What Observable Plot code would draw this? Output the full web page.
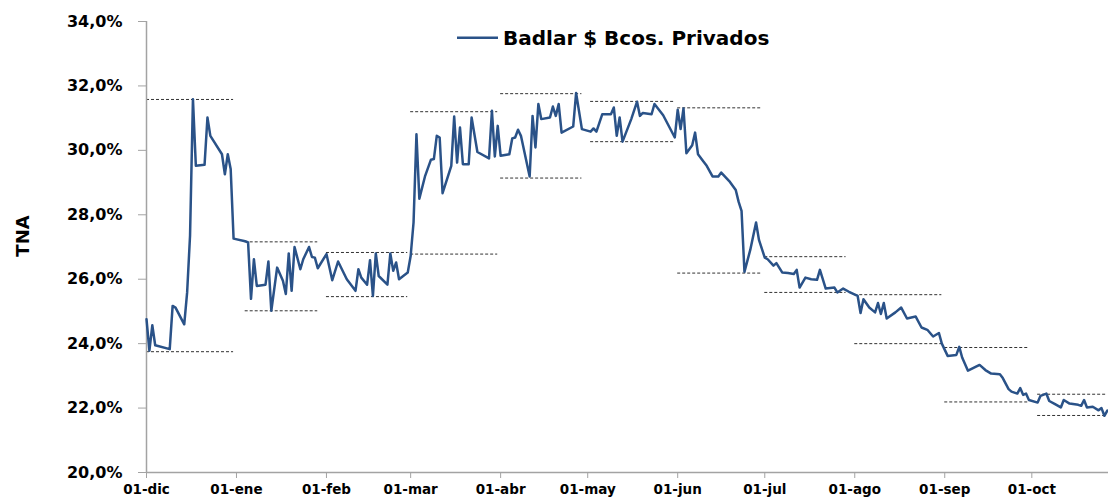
<!DOCTYPE html>
<html><head><meta charset="utf-8">
<script src="https://cdn.jsdelivr.net/npm/d3@7"></script>
<script src="https://cdn.jsdelivr.net/npm/@observablehq/plot@0.6"></script>
<style>
body{margin:0;background:#fff;}
#chart{position:relative;width:1108px;height:499px;overflow:hidden;}
#chart svg text{font-weight:bold;}
</style>
</head><body><div id="chart"></div>
<script>
const dates = [
"2015-12-01","2015-12-02","2015-12-03","2015-12-04","2015-12-09","2015-12-10","2015-12-11","2015-12-14","2015-12-15","2015-12-16",
"2015-12-17","2015-12-18","2015-12-21","2015-12-22","2015-12-23","2015-12-27","2015-12-28","2015-12-29","2015-12-30","2015-12-31",
"2016-01-04","2016-01-05","2016-01-06","2016-01-07","2016-01-08","2016-01-11","2016-01-12","2016-01-13","2016-01-15","2016-01-17",
"2016-01-18","2016-01-19","2016-01-20","2016-01-21","2016-01-23","2016-01-24","2016-01-26","2016-01-27","2016-01-28","2016-01-29",
"2016-02-01","2016-02-03","2016-02-05","2016-02-08","2016-02-11","2016-02-12","2016-02-13","2016-02-15","2016-02-16","2016-02-17",
"2016-02-18","2016-02-19","2016-02-22","2016-02-23","2016-02-24","2016-02-25","2016-02-26","2016-02-29",
"2016-03-01","2016-03-02","2016-03-03","2016-03-04","2016-03-06","2016-03-08","2016-03-09","2016-03-10","2016-03-11","2016-03-12",
"2016-03-15","2016-03-16","2016-03-17","2016-03-18","2016-03-19","2016-03-21","2016-03-22","2016-03-24","2016-03-28","2016-03-29",
"2016-03-30","2016-03-31",
"2016-04-01","2016-04-04","2016-04-05","2016-04-06","2016-04-07","2016-04-08","2016-04-11","2016-04-12","2016-04-13","2016-04-14",
"2016-04-15","2016-04-18","2016-04-19","2016-04-20","2016-04-21","2016-04-22","2016-04-26","2016-04-27","2016-04-29",
"2016-05-02","2016-05-03","2016-05-04","2016-05-06","2016-05-09","2016-05-10","2016-05-11","2016-05-12","2016-05-13","2016-05-16",
"2016-05-18","2016-05-19","2016-05-20","2016-05-23","2016-05-24","2016-05-27","2016-05-31",
"2016-06-01","2016-06-02","2016-06-03","2016-06-04","2016-06-06","2016-06-07","2016-06-08","2016-06-10","2016-06-11","2016-06-13",
"2016-06-15","2016-06-16","2016-06-19","2016-06-21","2016-06-22","2016-06-23","2016-06-24","2016-06-26","2016-06-28","2016-06-29",
"2016-07-01","2016-07-02","2016-07-04","2016-07-05","2016-07-07","2016-07-09","2016-07-11","2016-07-12","2016-07-13","2016-07-15",
"2016-07-17","2016-07-19","2016-07-20","2016-07-22","2016-07-25","2016-07-26","2016-07-28","2016-07-30",
"2016-08-02","2016-08-03","2016-08-04","2016-08-06","2016-08-08","2016-08-09","2016-08-10","2016-08-11","2016-08-12","2016-08-15",
"2016-08-17","2016-08-19","2016-08-22","2016-08-24","2016-08-26","2016-08-28","2016-08-30","2016-08-31",
"2016-09-02","2016-09-05","2016-09-06","2016-09-07","2016-09-09","2016-09-13","2016-09-15","2016-09-17","2016-09-20","2016-09-21",
"2016-09-23","2016-09-24","2016-09-26","2016-09-27","2016-09-28","2016-09-29","2016-09-30",
"2016-10-03","2016-10-04","2016-10-06","2016-10-07","2016-10-09","2016-10-11","2016-10-12","2016-10-14","2016-10-17","2016-10-18",
"2016-10-19","2016-10-20","2016-10-22","2016-10-24","2016-10-25","2016-10-26","2016-10-27"
];
const badlar = [
24.76,23.78,24.57,23.95,23.83,25.17,25.12,24.60,25.59,27.35,
31.59,29.52,29.55,31.02,30.45,29.88,29.26,29.88,29.42,27.26,
27.18,27.14,25.39,26.62,25.79,25.83,26.55,25.02,26.36,25.95,
25.54,26.80,25.64,27.00,26.31,26.62,27.00,26.69,26.67,26.34,
26.78,25.97,26.55,26.00,25.64,26.31,26.05,25.83,26.59,25.48,
26.80,26.10,25.83,26.80,26.26,26.52,26.00,26.21,
26.72,27.76,30.50,28.50,29.21,29.71,29.73,30.45,30.40,28.67,
29.52,31.05,29.62,30.71,29.57,29.57,31.02,29.95,29.75,31.23,
29.81,30.76,
29.83,29.88,30.37,30.40,30.64,30.45,29.19,31.07,30.09,31.44,
30.97,31.02,31.36,31.07,31.44,30.55,30.74,31.78,30.66,
30.58,30.68,30.58,31.12,31.12,31.33,30.45,31.02,30.27,30.97,
31.51,31.07,31.16,31.12,31.44,31.09,30.40,
31.26,30.66,31.30,29.91,30.16,30.55,29.88,29.64,29.52,29.19,
29.19,29.31,29.02,28.77,28.40,28.12,26.23,26.91,27.76,27.22,
26.67,26.62,26.42,26.50,26.21,26.19,26.16,26.29,25.74,26.05,
26.00,25.98,26.29,25.71,25.74,25.59,25.71,25.61,
25.48,24.95,25.38,25.12,24.97,25.26,24.92,25.26,24.78,24.97,
25.12,24.78,24.84,24.50,24.43,24.22,24.33,24.00,
23.62,23.65,23.90,23.57,23.16,23.34,23.18,23.07,23.05,22.93,
22.59,22.51,22.45,22.62,22.41,22.45,22.25,
22.17,22.38,22.45,22.22,22.12,22.02,22.25,22.14,22.10,22.07,
22.25,22.02,22.04,21.93,22.00,21.76,21.92
];

// monthly ranges (dashed lines)
const rangeStart = ["2015-12-01","2016-01-04","2016-02-01","2016-03-01","2016-04-01","2016-05-02","2016-06-01","2016-07-01","2016-08-01","2016-09-01","2016-10-03"];
const rangeEnd   = ["2015-12-31","2016-01-29","2016-02-29","2016-03-31","2016-04-29","2016-05-31","2016-06-30","2016-07-29","2016-08-31","2016-09-30","2016-10-27"];
const rangeMax   = [31.58,27.16,26.83,31.20,31.76,31.52,31.32,26.70,25.52,23.88,22.43];
const rangeMin   = [23.75,25.02,25.46,26.78,29.14,30.27,26.19,25.59,24.00,22.19,21.77];

const tickMonths = ["2015-12-01","2016-01-01","2016-02-01","2016-03-01","2016-04-01","2016-05-01","2016-06-01","2016-07-01","2016-08-01","2016-09-01","2016-10-01"];
const tickLabels = ["01-dic","01-ene","01-feb","01-mar","01-abr","01-may","01-jun","01-jul","01-ago","01-sep","01-oct"];
const yTicks = [20,22,24,26,28,30,32,34];
const seriesName = "Badlar $ Bcos. Privados";
const yLabel = "TNA";

const data = dates.map((d,i)=>({date:new Date(d), v:badlar[i]}));
const ranges = rangeStart.map((s,i)=>({x1:new Date(s), x2:new Date(rangeEnd[i]), max:rangeMax[i], min:rangeMin[i]}));
const tickDates = tickMonths.map(d=>new Date(d));
const xStart = new Date("2015-12-01");
const xEnd = new Date("2016-10-27T10:00:00Z");
const grey = "#a3a3a3";
const blue = "#2a5288";

const plot = Plot.plot({
  width:1108, height:499,
  marginTop:21, marginBottom:27, marginLeft:146, marginRight:0,
  style:{fontFamily:"'DejaVu Sans', Verdana, sans-serif", background:"#fff", color:"#000", overflow:"visible"},
  x:{type:"utc", domain:[xStart, xEnd]},
  y:{domain:[20,34]},
  marks:[
    Plot.ruleY(ranges,{x1:"x1",x2:"x2",y:"max",stroke:"#333",strokeWidth:1,strokeDasharray:"3,2"}),
    Plot.ruleY(ranges,{x1:"x1",x2:"x2",y:"min",stroke:"#333",strokeWidth:1,strokeDasharray:"3,2"}),
    Plot.ruleY([20],{stroke:grey,strokeWidth:1.5}),
    Plot.ruleX([xStart],{stroke:grey,strokeWidth:1.5}),
    Plot.axisY({ticks:yTicks, tickSize:8, tickPadding:16, stroke:grey, fill:"#000", fontSize:16, fontWeight:"bold",
      tickFormat:d=>d.toFixed(1).replace(".",",")+"%", label:null}),
    Plot.axisX({ticks:tickDates, tickSize:6, tickPadding:6, stroke:grey, fill:"#000", fontSize:13.5, fontWeight:"bold",
      tickFormat:d=>tickLabels[tickDates.findIndex(t=>+t===+d)], label:null}),
    Plot.line(data,{x:"date",y:"v",stroke:blue,strokeWidth:2.5,strokeLinejoin:"round"})
  ]
});
document.getElementById("chart").appendChild(plot);

const svg = d3.select(plot);
svg.append("line").attr("x1",457).attr("x2",498).attr("y1",37.7).attr("y2",37.7)
  .attr("stroke",blue).attr("stroke-width",2.5);
svg.append("text").attr("x",503).attr("y",44.5).attr("text-anchor","start")
  .attr("font-size",20).attr("font-weight","bold").attr("fill","#000").text(seriesName);
svg.append("text").attr("transform","translate(28.5,236) rotate(-90)")
  .attr("text-anchor","middle").attr("font-size",18).attr("font-weight","bold").attr("fill","#000").text(yLabel);
</script>
</body></html>
